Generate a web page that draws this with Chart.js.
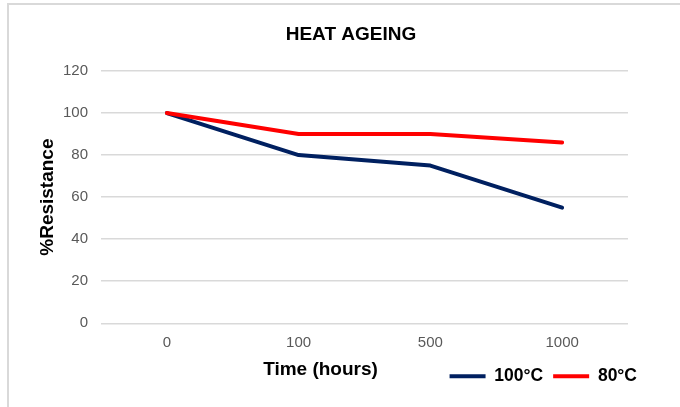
<!DOCTYPE html>
<html>
<head>
<meta charset="utf-8">
<script src="https://cdn.jsdelivr.net/npm/chart.js@4"></script>
<style>
  html, body { margin: 0; padding: 0; background: #fff; overflow: hidden; }
  #wrap { position: relative; width: 680px; height: 407px; }
  #frame { position: absolute; left: 7px; top: 3px; width: 720px; height: 420px;
           border-left: 2px solid #d9d9d9; border-top: 2px solid #d9d9d9; pointer-events: none; }
</style>
</head>
<body>
<div id="wrap">
  <canvas id="heatChart"></canvas>
  <div id="frame"></div>
</div>
<script>
const timeLabels = ['0', '100', '500', '1000'];
const res100 = [100, 80, 75, 55];
const res80 = [100, 90, 90, 86];
const yMin = 0, yMax = 120, yStep = 20;

const FONT = '"Liberation Sans", Arial, sans-serif';

// x axis title sits left of the legend, on the same row
const xTitlePlugin = {
  id: 'xTitle',
  afterDraw(chart) {
    const { ctx, chartArea } = chart;
    ctx.save();
    ctx.font = 'bold 19px ' + FONT;
    ctx.fillStyle = '#000';
    ctx.textAlign = 'center';
    ctx.textBaseline = 'middle';
    ctx.fillText('Time (hours)', chartArea.left + chartArea.width * 0.4165, chartArea.bottom + 47);
    ctx.restore();
  }
};

const ctx = document.getElementById('heatChart').getContext('2d');
const heatChart = new Chart(ctx, {
  type: 'line',
  data: {
    labels: timeLabels,
    datasets: [{
      label: '100°C',
      data: res100,
      borderColor: '#002060',
      backgroundColor: '#002060',
      borderWidth: 4,
      borderCapStyle: 'round',
      borderJoinStyle: 'round',
      pointRadius: 0,
      tension: 0,
      order: 1
    }, {
      label: '80°C',
      data: res80,
      borderColor: '#ff0000',
      backgroundColor: '#ff0000',
      borderWidth: 4,
      borderCapStyle: 'round',
      borderJoinStyle: 'round',
      pointRadius: 0,
      tension: 0,
      order: 0
    }]
  },
  options: {
    responsive: true,
    maintainAspectRatio: false,
    animation: false,
    layout: { padding: { left: 55, right: 33, top: 0, bottom: 12 } },
    plugins: {
      title: {
        display: true,
        text: 'HEAT AGEING',
        color: '#000',
        font: { family: FONT, size: 19, weight: 'bold' },
        padding: { top: 23.6, bottom: 24.6 }
      },
      legend: {
        position: 'bottom',
        align: 'end',
        labels: {
          usePointStyle: true,
          pointStyle: 'line',
          pointStyleWidth: 36,
          padding: 10,
          color: '#000',
          font: { family: FONT, size: 17.5, weight: 'bold' },
          sort: (a, b) => a.datasetIndex - b.datasetIndex
        }
      },
      tooltip: { enabled: false }
    },
    scales: {
      x: {
        offset: true,
        grid: { display: false },
        border: { display: false },
        ticks: {
          padding: 3,
          color: '#595959',
          font: { family: FONT, size: 15 }
        },
        afterFit: s => { s.height = 34.25; }
      },
      y: {
        min: yMin,
        max: yMax,
        grid: { color: '#d9d9d9', lineWidth: 1.5, drawTicks: false },
        border: { display: false },
        ticks: {
          stepSize: yStep,
          padding: 13,
          color: '#595959',
          font: { family: FONT, size: 15 }
        },
        title: {
          display: true,
          text: '%Resistance',
          color: '#000',
          font: { family: FONT, size: 19, weight: 'bold' },
          padding: { top: -18.4, bottom: 0 }
        },
        afterFit: s => { s.width = 46; }
      },
      y2: {
        position: 'right',
        grid: { display: false },
        border: { display: false },
        ticks: { display: false },
        afterFit: s => { s.width = 19; }
      }
    }
  },
  plugins: [xTitlePlugin]
});
</script>
</body>
</html>
